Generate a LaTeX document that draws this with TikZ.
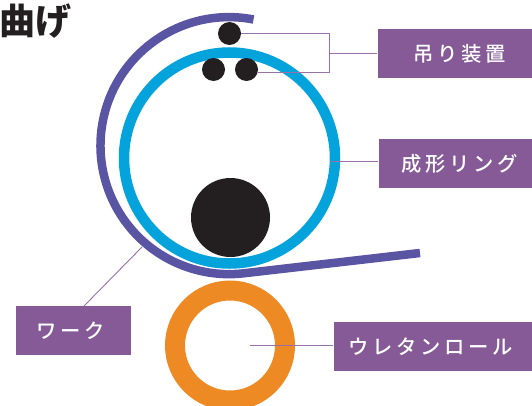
\documentclass[tikz,border=0pt]{standalone}
\usepackage{fontspec}
\newfontfamily\titlefont{Noto Sans CJK JP}
\newfontfamily\boxfont[LetterSpace=18]{Noto Sans CJK JP Medium}
\definecolor{workcol}{HTML}{5A55A3}
\definecolor{ringcol}{HTML}{05A3DC}
\definecolor{rollcol}{HTML}{EE8A24}
\definecolor{blackcol}{HTML}{231F20}
\definecolor{boxcol}{HTML}{855A96}
\definecolor{linecol}{HTML}{9A70A8}

\begin{document}
\begin{tikzpicture}[x=1bp,y=1bp,thick]

\tikzstyle{ball}=[circle,fill=blackcol,inner sep=0pt]
\tikzstyle{tagbox}=[fill=boxcol,text=white,anchor=west,inner xsep=0pt,minimum height=49bp,font=\boxfont\fontsize{20.3bp}{20.3bp}\selectfont]
\tikzstyle{tagline}=[linecol,line width=0.9bp]

\clip (0,0) rectangle (532,405);

%title
\node [anchor=west,inner sep=0pt,font=\titlefont\bfseries\fontsize{36bp}{36bp}\selectfont,text=blackcol] (title) at (-1,384) {曲げ};

%forming ring
\node [circle,draw=ringcol,line width=10.5bp,inner sep=0pt,minimum size=211bp] (ring) at (229.5,247) {};

%urethane roll
\node [circle,draw=rollcol,line width=20bp,inner sep=0pt,minimum size=110bp] (roll) at (230,59.5) {};

%work
\draw [workcol,line width=8.5bp,line join=round] (253.5,385.5) arc (79:276.5:128.5bp) -- (420,152);

%labels
\node [tagbox,text width=154.7bp] (hangt) at (377.3,351.5) {\hspace*{36bp}吊り装置};
\node [tagbox,text width=153.7bp] (ringt) at (378.3,241.5) {\hspace*{23bp}成形リング};
\node [tagbox,text width=115bp] (workt) at (15.3,74.5) {\hspace*{21bp}ワーク};
\node [tagbox,text width=198.7bp] (rollt) at (333.3,58.5) {\hspace*{15bp}ウレタンロール};

%hanging rollers
\node [ball,minimum size=23bp] (hang0) at (229.5,371.5) {};
\node [ball,minimum size=23bp] (hang1) at (213.5,335.5) {};
\node [ball,minimum size=23bp] (hang2) at (246.5,335.5) {};

%large roller
\node [ball,minimum size=79bp] (big) at (230.5,187.5) {};

%points the lines run to
\coordinate (hangur) at (329,371.5);
\coordinate (hanglr) at (329,333);
\coordinate (hangst) at (257.5,333);
\coordinate (hangm) at (329,352);
\coordinate (ringp) at (331,244);
\coordinate (workp) at (142,158);
\coordinate (workq) at (84,99);
\coordinate (rollp) at (250,59.5);

\draw [tagline] (hang0.east) -- (hangur) -- (hanglr) -- (hangst);
\draw [tagline] (hangm) -- (hangm -| hangt.west);
\draw [tagline] (ringp) -- (ringp -| ringt.west);
\draw [tagline] (workp) -- (workq);
\draw [tagline] (rollp) -- (rollp -| rollt.west);

\end{tikzpicture}
\end{document}
